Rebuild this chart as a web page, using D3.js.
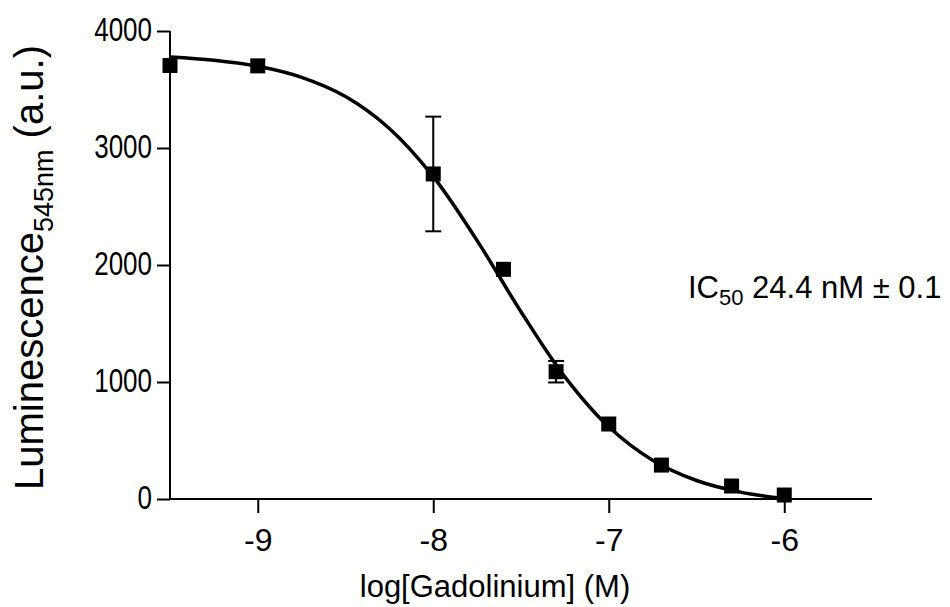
<!DOCTYPE html>
<html>
<head>
<meta charset="utf-8">
<script src="https://cdn.jsdelivr.net/npm/d3@7"></script>
<style>
  html, body { margin: 0; padding: 0; background: #fff; }
  svg { display: block; }
  text { font-family: "Liberation Sans", Arial, sans-serif; fill: #000; }
</style>
</head>
<body>
<svg id="chart" width="950" height="607"></svg>
<script>
// Data
const logConc   = [-9.5, -9, -8, -7.6, -7.3, -7, -6.7, -6.3, -6];
const lumMean   = [3705, 3702, 2778, 1963, 1088, 641, 290, 111, 34];
const lumErr    = [0, 0, 490, 0, 92, 0, 0, 0, 0];
// Fitted curve
const curveX    = [-9.5, -9.25, -9, -8.75, -8.5, -8.25, -8, -7.75, -7.5, -7.25, -7, -6.75, -6.5, -6.25, -6];
const curveY    = [3778, 3750, 3698, 3604, 3440, 3167, 2755, 2208, 1601, 1044, 617, 331, 158, 59, 4];
const xTicks    = [-9, -8, -7, -6];
const yTicks    = [0, 1000, 2000, 3000, 4000];

const svg = d3.select("#chart");
const x = d3.scaleLinear().domain([-9.5, -5.5]).range([170, 872]);
const y = d3.scaleLinear().domain([0, 4000]).range([499, 31]);

// Axes
const xAxis = svg.append("g").attr("transform", "translate(0,499)")
  .call(d3.axisBottom(x).tickValues(xTicks).tickSize(14).tickPadding(15)
        .tickFormat(d => "-" + Math.abs(d)).tickSizeOuter(0));
const yAxis = svg.append("g").attr("transform", "translate(170,0)")
  .call(d3.axisLeft(y).tickValues(yTicks).tickSize(13).tickPadding(5)
        .tickFormat(d3.format("d")).tickSizeOuter(0));
[xAxis, yAxis].forEach(g => {
  g.select(".domain").attr("stroke", "#000").attr("stroke-width", 2);
  g.selectAll(".tick line").attr("stroke", "#000").attr("stroke-width", 2);
  g.selectAll(".tick text")
   .attr("font-family", "Liberation Sans, Arial, sans-serif").attr("fill", "#000");
});
xAxis.selectAll(".tick text").attr("font-size", 32);
yAxis.selectAll(".tick text").attr("font-size", 26).attr("transform", "scale(1,1.25)")
  .attr("dy", "0.28em");
xAxis.select(".domain").attr("d", `M${x(-9.5)},0H${x(-5.5)}`);
yAxis.select(".domain").attr("d", `M0,${y(0)}V${y(4000)}`);

// Curve
const line = d3.line().x((d, i) => x(curveX[i])).y(d => y(d)).curve(d3.curveCatmullRom);
svg.append("path").datum(curveY).attr("d", line)
  .attr("fill", "none").attr("stroke", "#000").attr("stroke-width", 3.5);

// Error bars
const pts = logConc.map((c, i) => ({c, m: lumMean[i], e: lumErr[i]}));
const eb = svg.append("g").attr("stroke", "#000").attr("stroke-width", 2);
pts.filter(d => d.e > 0).forEach(d => {
  eb.append("line").attr("x1", x(d.c)).attr("x2", x(d.c)).attr("y1", y(d.m + d.e)).attr("y2", y(d.m - d.e));
  [d.m + d.e, d.m - d.e].forEach(v => {
    eb.append("line").attr("x1", x(d.c) - 8).attr("x2", x(d.c) + 8).attr("y1", y(v)).attr("y2", y(v));
  });
});

// Markers
const s = 15;
svg.append("g").selectAll("rect").data(pts).join("rect")
  .attr("x", d => x(d.c) - s / 2).attr("y", d => y(d.m) - s / 2)
  .attr("width", s).attr("height", s).attr("fill", "#000");

// Axis titles
svg.append("text").attr("x", 495).attr("y", 597).attr("text-anchor", "middle")
  .attr("font-size", 31).text("log[Gadolinium] (M)");
const yt = svg.append("text").attr("transform", "translate(43,490) rotate(-90)")
  .attr("text-anchor", "start").attr("font-size", 40);
yt.append("tspan").text("Luminescence");
yt.append("tspan").attr("font-size", 27).attr("dy", 10).text("545nm");
yt.append("tspan").attr("dy", -10).text(" (a.u.)");

// Annotation
const ann = svg.append("text").attr("x", 688).attr("y", 298).attr("font-size", 31);
ann.append("tspan").text("IC");
ann.append("tspan").attr("font-size", 22).attr("dy", 7).text("50");
ann.append("tspan").attr("dy", -7).text(" 24.4 nM \u00B1 0.1");
</script>
</body>
</html>
